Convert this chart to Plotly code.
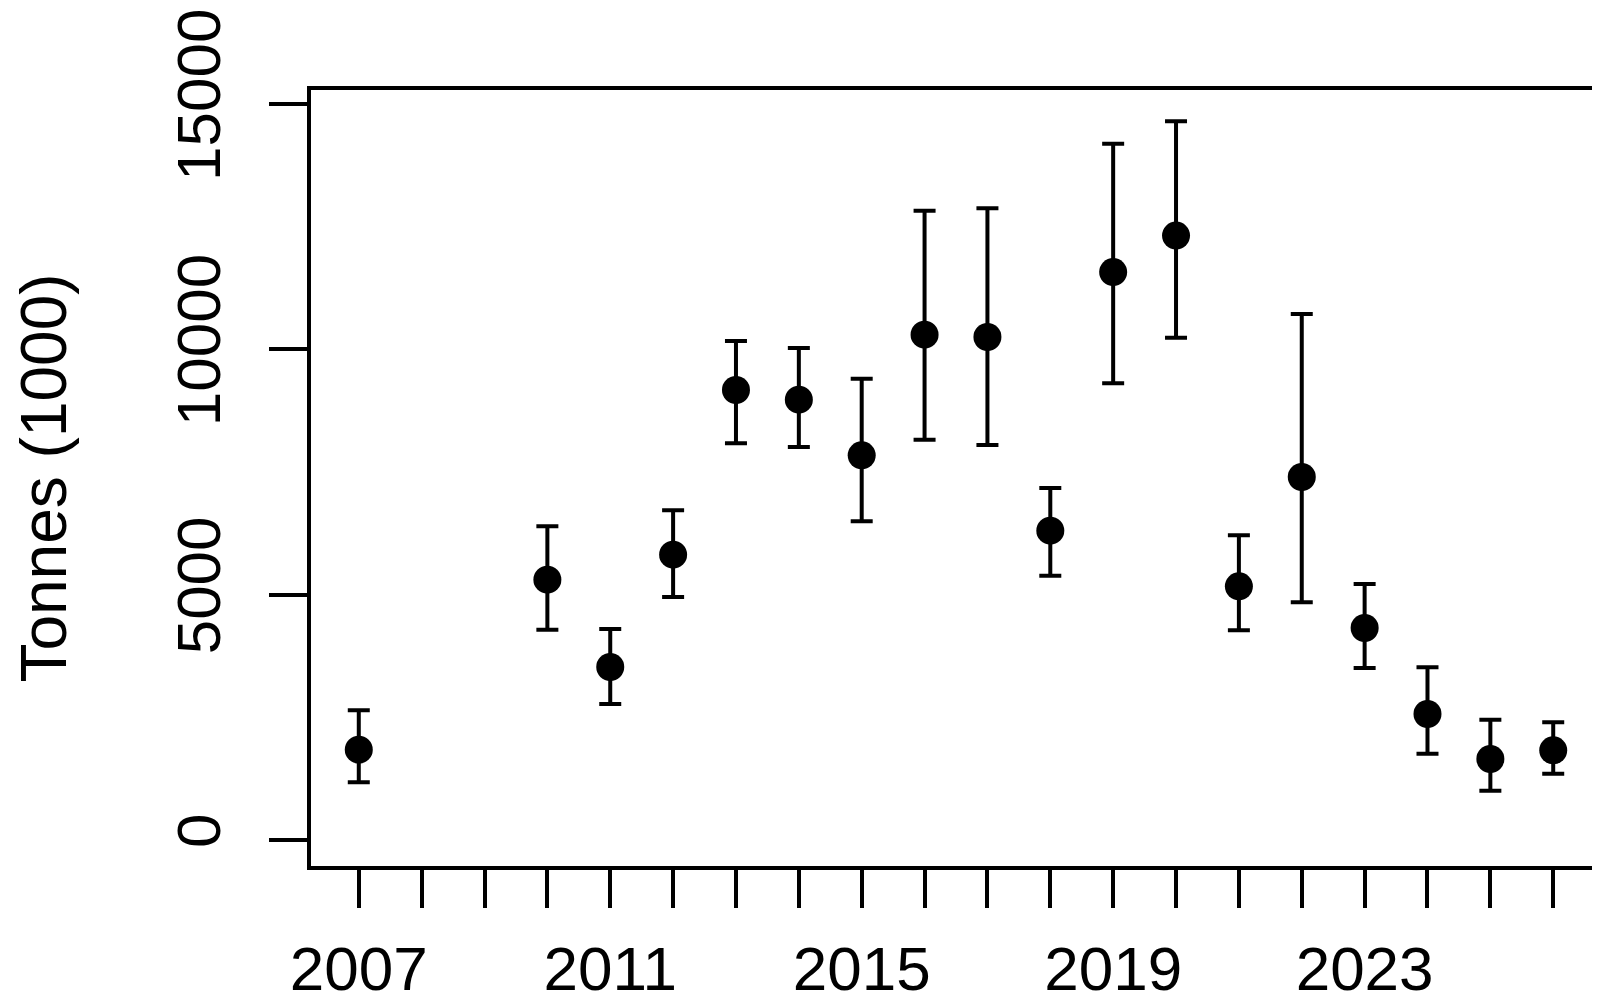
import plotly.graph_objects as go

# Data
years = [2007, 2010, 2011, 2012, 2013, 2014, 2015, 2016, 2017, 2018,
         2019, 2020, 2021, 2022, 2023, 2024, 2025, 2026]
tonnes = [1840, 5305, 3526, 5815, 9171, 8973, 7840, 10298, 10251, 6304,
          11575, 12319, 5170, 7398, 4320, 2568, 1651, 1828]
upper = [2643, 6393, 4300, 6719, 10169, 10027, 9401, 12825, 12873, 7173,
         14190, 14650, 6209, 10720, 5217, 3519, 2452, 2398]
lower = [1175, 4286, 2772, 4952, 8084, 8009, 6495, 8158, 8050, 5387,
         9307, 10238, 4273, 4844, 3505, 1759, 1005, 1352]

tick_years = list(range(2007, 2027))
tick_labels = [str(y) if (y - 2007) % 4 == 0 else "" for y in tick_years]
y_ticks = [0, 5000, 10000, 15000]
y_labels = ["0", "5000", "10000", "15000"]

err_up = [u - v for u, v in zip(upper, tonnes)]
err_down = [v - l for v, l in zip(tonnes, lower)]

fig = go.Figure()
fig.add_trace(go.Scatter(
    x=years, y=tonnes, mode="markers",
    marker=dict(color="black", size=28),
    error_y=dict(type="data", symmetric=False, array=err_up, arrayminus=err_down,
                 color="black", thickness=4, width=11),
))

tick_font = dict(family="Liberation Sans, Arial, sans-serif", size=62, color="black")
title_font = dict(family="Liberation Sans, Arial, sans-serif", size=64, color="black")

fig.update_layout(
    width=1600, height=1003,
    paper_bgcolor="white", plot_bgcolor="white",
    margin=dict(l=303, r=7, t=82, b=145),
    showlegend=False,
    font=tick_font,
    xaxis=dict(range=[2006.24, 2026.76], tickvals=tick_years, ticktext=tick_labels,
               ticks="outside", ticklen=38, tickwidth=4, tickcolor="black",
               ticklabelstandoff=8, automargin=False,
               showline=True, linecolor="black", linewidth=4, mirror=True,
               showgrid=False, zeroline=False, tickfont=tick_font),
    yaxis=dict(range=[-530, 15285], tickvals=y_ticks, ticktext=y_labels,
               ticks="outside", ticklen=38, tickwidth=4, tickcolor="black",
               tickangle=-90, ticklabelstandoff=24, automargin=False,
               showline=True, linecolor="black", linewidth=4, mirror=True,
               showgrid=False, zeroline=False, tickfont=tick_font,
               title=dict(text="Tonnes (1000)", font=title_font, standoff=80)),
)

fig.write_html("out.html")
